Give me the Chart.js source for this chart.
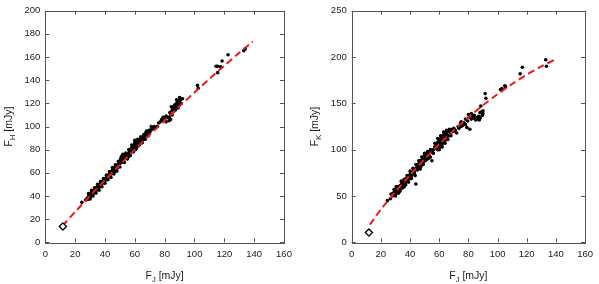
<!DOCTYPE html>
<html><head><meta charset="utf-8">
<script src="https://cdn.jsdelivr.net/npm/chart.js@4/dist/chart.umd.min.js"></script>
<style>
html,body{margin:0;padding:0;background:#fff;}
#w{position:relative;width:599px;height:284px;}
canvas{position:absolute;top:0;}
</style></head>
<body><div id="w"><canvas id="c1" width="300" height="284" style="left:0"></canvas><canvas id="c2" width="299" height="284" style="left:300px"></canvas></div>
<script>
// Left panel: F_J vs F_H
const hPoints = [[24.5,34.5],[27,36.5],[28,38],[28.5,37],[29,39.5],[29.5,38.5],[30,41],[30,39],[30.5,42],[30.5,40],[31,43.5],[31,41],[31.5,42.5],[32,44],[32,42],[32.5,43],[33,45],[33,43.5],[33.5,46],[33.5,44],[34,47],[34,45],[34.5,46],[35,48],[35,46.5],[35.5,47.5],[36,49],[36,47],[36.5,50],[37,50.5],[37,49],[37.5,51],[38,52],[38,50.5],[38.5,53],[39,52],[39.5,54],[40,55],[40,53],[41,56],[41.5,55],[42,57],[42.5,58],[43,58],[43.5,60],[44,59],[44.5,61],[45,62],[45,60],[45.5,63],[46,62],[46,64],[46.5,61],[47,65],[47,63],[47.5,66],[48,64],[48.5,67],[49,66],[49.5,69],[50,68],[50,70],[50.5,72],[51,74],[51,69],[51.5,71],[52,73],[52,70],[52.5,74],[53,72],[53.5,75],[54,73],[54.5,74],[55,76],[55.5,75],[56,77],[56,74],[56.5,78],[57,79],[57.5,78],[58,80],[58,82],[58.5,79],[59,83],[59,81],[59.5,84],[60,82],[60,86],[60.5,80],[61,84],[61.5,85],[62,83],[62,87],[62.5,86],[63,88],[63.5,85],[64,89],[64.5,87],[65,90],[65,88],[66,91],[66.5,89],[67,92],[67.5,95],[68,93],[68.5,94],[69,96],[70,97],[71,100],[73,100],[74,99],[76,103],[78,106],[79,108],[80,106],[81,104],[82,108],[83,105],[83.5,112],[84,110],[84.5,117],[85,114],[85.5,116],[86,113],[86.5,118],[87,119],[87.5,117],[88,120],[88,116],[88.5,121],[89,122],[89,119],[89.5,118],[90,121],[90.5,123],[91,120],[92,124],[102,135.5],[102.5,133],[114.5,152],[115.5,152],[115.5,146.5],[117.5,151.5],[118.5,156.5],[122.5,162],[133,165.5],[134,167],
[29,42],[30,37.5],[31,45],[32,40],[33,47],[34,42.5],[35,50],[36,45],[37,52.5],[38,48],[39,55],[40,51],[41,58],[42,54],[43,61],[44,56],[45,64.5],[46,59],[47,67],[48,61.5],[49,70],[50,65],[51,72],[52,76],[53,69],[54,77],[55,72],[56,80],[57,75],[58,84],[59,78],[60,88],[61,81],[62,89],[63,84],[64,91],[65,86],[66,93],[67,89],[68,96],[69,92],[70,95],[71,97],[72,98],[75,100],[77,104],[79,105],[81,109],[83,108],[84,106],[85,110],[86,116],[87,114],[88,123],[89,116],[90,119],[91,124],[90,125]];
const hFitJ = [11.5,20,30,40,50,60,70,80,90,100,110,120,130,139];
const hFitH = [14.2,26.3,40.1,53.7,67.0,80.0,92.8,105.2,117.4,129.4,141.1,152.5,163.6,173.4];
const hRef = [[11.8,13.7]];
// Right panel: F_J vs F_K
const kPoints = [[24.5,45],[26.5,47],[28,50],[28.5,53],[29,51],[29.5,55],[30,52],[30,56],[30.5,60],[31,54],[31,57],[31.5,55],[32,58],[32,53],[32.5,60],[33,57],[33,61],[33.5,59],[34,62],[34,58],[34.5,64],[35,61],[35,65],[35.5,63],[36,66],[36,60],[36.5,62],[37,67],[37,64],[37.5,69],[38,66],[38.5,70],[39,68],[39,72],[39.5,70],[40,73],[40,69],[40.5,75],[41,72],[41.5,76],[42,74],[42.5,78],[43,76],[43.5,72],[44,63],[44,80],[45,82],[45,78],[45.5,84],[46,80],[46.5,86],[47,84],[47,88],[47.5,82],[48,87],[48.5,90],[49,86],[49,92],[49.5,89],[50,91],[50,94],[50.5,88],[51,93],[51.5,95],[52,90],[52,96],[53,94],[53.5,97],[54,92],[55,88],[55.5,97],[56,100],[57,103],[58,101],[58.5,106],[59,100],[59,108],[59.5,104],[60,102],[60,110],[60.5,106],[61,112],[61,104],[61.5,108],[62,114],[62,106],[62.5,110],[63,116],[63,108],[63.5,112],[64,118],[64,110],[64.5,114],[65,117],[65.5,112],[66,120],[66.5,115],[67,119],[67.5,121],[68,118],[69,122],[70,120],[72,118],[73.5,123],[74.5,128],[75,125],[76,126],[78,127],[79,124],[79.5,131],[80,138],[80.5,135],[81,122],[82,133],[83,136],[84,134],[85,132],[86,135],[87,136],[87.5,132],[88,140],[89,141],[89.5,137],[90,142],[88.5,147],[91.5,160.5],[92,155.5],[102,165],[103,166],[105,169],[105.5,168],[115.5,182],[117,189],[133,197],[133.5,190],
[27,52],[29,57],[30,50],[31,60],[32,56],[33,55],[34,66],[35,59],[36,68],[37,62],[38,72],[39,65],[40,77],[41,69],[42,80],[43,74],[44,84],[45,80],[46,88],[47,79],[48,92],[49,84],[50,96],[51,89],[52,98],[53,91],[54,100],[56,96],[57,107],[58,104],[59,112],[60,100],[61,115],[62,103],[63,119],[64,107],[65,121],[66,111],[67,122],[68,115],[70,123],[71,121],[73,125],[75,130],[77,129],[78,133],[81,137],[82,139],[84,137],[86,133],[88,134],[90,139]];
const kFitJ = [12.5,20,30,40,50,60,70,80,90,100,110,120,130,140];
const kFitK = [19,35.5,54.6,72.7,89.8,105.8,120.9,134.9,147.9,159.9,170.9,180.9,189.8,197.7];
const kRef = [[11.8,10.5]];
const xTicks = [0,20,40,60,80,100,120,140,160];
const hTicks = [0,20,40,60,80,100,120,140,160,180,200];
const kTicks = [0,50,100,150,200,250];

const FONT = '"Liberation Sans", Arial, sans-serif';
function measureSub(ctx, main, sub, rest, size) {
  ctx.font = size + 'px ' + FONT;
  const w1 = ctx.measureText(main).width;
  ctx.font = (size*0.72) + 'px ' + FONT;
  const w2 = ctx.measureText(sub).width;
  ctx.font = size + 'px ' + FONT;
  const w3 = ctx.measureText(rest).width;
  return {w1, w2, w3, total: w1 + w2 + w3};
}
function paintSubText(ctx, main, sub, rest, size, cx, base) {
  const m = measureSub(ctx, main, sub, rest, size);
  let x = cx - m.total/2;
  ctx.textAlign = 'left'; ctx.textBaseline = 'alphabetic';
  ctx.font = size + 'px ' + FONT; ctx.fillText(main, x, base); x += m.w1;
  ctx.font = (size*0.72) + 'px ' + FONT; ctx.fillText(sub, x, base + size*0.3); x += m.w2;
  ctx.font = size + 'px ' + FONT; ctx.fillText(rest, x, base);
}

function framePlugin(ySub, yTitleX) {
  return {
    id: 'frame',
    afterDraw(chart) {
      const ctx = chart.ctx;
      const a = chart.chartArea;
      const xs = chart.scales.x, ys = chart.scales.y;
      ctx.save();
      ctx.strokeStyle = '#555';
      ctx.lineWidth = 1;
      ctx.strokeRect(Math.round(a.left)+0.5, Math.round(a.top)+0.5, Math.round(a.right-a.left), Math.round(a.bottom-a.top));
      ctx.beginPath();
      const L = 4;
      xs.ticks.forEach(t => {
        const p = Math.round(xs.getPixelForValue(t.value)) + 0.5;
        ctx.moveTo(p, a.bottom); ctx.lineTo(p, a.bottom - L);
        ctx.moveTo(p, a.top); ctx.lineTo(p, a.top + L);
      });
      ys.ticks.forEach(t => {
        const p = Math.round(ys.getPixelForValue(t.value)) + 0.5;
        ctx.moveTo(a.left, p); ctx.lineTo(a.left + L, p);
        ctx.moveTo(a.right, p); ctx.lineTo(a.right - L, p);
      });
      ctx.stroke();
      ctx.fillStyle = '#222';
      paintSubText(ctx, 'F', 'J', ' [mJy]', 10.5, (a.left + a.right)/2, 279);
      ctx.translate(yTitleX, (a.top + a.bottom)/2);
      ctx.rotate(-Math.PI/2);
      paintSubText(ctx, 'F', ySub, ' [mJy]', 10.5, 0, 0);
      ctx.restore();
    }
  };
}

function makeChart(id, pts, fitX, fitY, ref, yMax, yTicks, yW, padRight, ySub, yTitleX) {
  new Chart(document.getElementById(id), {
    type: 'scatter',
    data: {
      datasets: [
        { type: 'scatter', data: ref.map(([x,y]) => ({x,y})), pointStyle: 'rectRot', pointRadius: 3.6,
          backgroundColor: '#fff', borderColor: '#000', borderWidth: 1.3, order: 0 },
        { type: 'line', data: fitX.map((x,i) => ({x, y: fitY[i]})), borderColor: '#f01818', borderWidth: 2,
          borderDash: [7,4], pointRadius: 0, fill: false, tension: 0.3, order: 1 },
        { type: 'scatter', data: pts.map(([x,y]) => ({x,y})), pointRadius: 1.8, pointStyle: 'circle',
          backgroundColor: '#000', borderColor: '#000', borderWidth: 0, order: 2 }
      ]
    },
    options: {
      responsive: false, animation: false, devicePixelRatio: 1,
      layout: { padding: { top: 4, right: padRight, left: 0, bottom: 0 } },
      plugins: { legend: { display: false }, tooltip: { enabled: false } },
      scales: {
        x: { type: 'linear', min: 0, max: 160,
          afterBuildTicks: s => { s.ticks = xTicks.map(v => ({value: v})); },
          afterFit: s => { s.height = 41.7; },
          grid: { display: false, drawTicks: false }, border: { display: false },
          ticks: { padding: 6, color: '#222', font: { family: FONT, size: 9.5 }, maxRotation: 0 } },
        y: { type: 'linear', min: 0, max: yMax,
          afterBuildTicks: s => { s.ticks = yTicks.map(v => ({value: v})); },
          afterFit: s => { s.width = yW; },
          grid: { display: false, drawTicks: false }, border: { display: false },
          ticks: { padding: 5, color: '#222', font: { family: FONT, size: 9.5 } } }
      }
    },
    plugins: [framePlugin(ySub, yTitleX)]
  });
}
makeChart('c1', hPoints, hFitJ, hFitH, hRef, 200, hTicks, 45.3, 16, 'H', 12);
makeChart('c2', kPoints, kFitJ, kFitK, kRef, 250, kTicks, 51.7, 7, 'K', 18);
</script></body></html>
